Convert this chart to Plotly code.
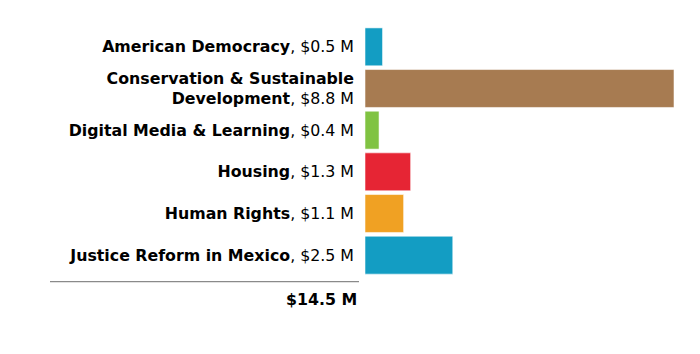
import plotly.graph_objects as go

categories = ["American Democracy", "Conservation & Sustainable<br>Development",
              "Digital Media & Learning", "Housing", "Human Rights",
              "Justice Reform in Mexico"]
values = [0.5, 8.8, 0.4, 1.3, 1.1, 2.5]
value_labels = ["$0.5 M", "$8.8 M", "$0.4 M", "$1.3 M", "$1.1 M", "$2.5 M"]
colors = ["#139DC3", "#A77B51", "#80C342", "#E62534", "#F0A123", "#139DC3"]
total_label = "$14.5 M"

FONT = "DejaVu Sans, Liberation Sans, Arial, sans-serif"
FS = 15.8

def tick_text(cat, val):
    parts = cat.split("<br>")
    return "<br>".join("<b>" + p + "</b>" for p in parts) + ", " + val

ticktext = [tick_text(c, v) for c, v in zip(categories, value_labels)]

L, R, T, B = 365, 26, 26, 78
W, H = 700, 354
pw = W - L - R
ph = H - T - B

fig = go.Figure(go.Bar(
    x=values, y=list(range(len(values))), orientation="h",
    marker=dict(color=colors, line=dict(color="rgba(255,255,255,0.55)", width=1)),
    width=0.91, hoverinfo="skip",
))

fig.update_layout(
    width=W, height=H,
    margin=dict(l=L, r=R, t=T, b=B),
    paper_bgcolor="white", plot_bgcolor="white",
    font=dict(family=FONT, size=FS, color="#000"),
    showlegend=False,
    xaxis=dict(range=[0, 8.8], visible=False),
    yaxis=dict(tickmode="array", tickvals=list(range(len(values))), ticktext=ticktext,
               range=[len(values) - 0.5, -0.5], showgrid=False, zeroline=False,
               showline=False, ticks="", ticklabelstandoff=10,
               tickfont=dict(size=FS, family=FONT, color="#000")),
)

fig.add_shape(type="line", xref="paper", yref="paper",
              x0=(50 - L) / pw, x1=(359 - L) / pw,
              y0=-5.7 / ph, y1=-5.7 / ph,
              line=dict(color="#8a8a8a", width=1.2))
fig.add_annotation(text="<b>" + total_label + "</b>", xref="paper", yref="paper",
                   x=(359 - L) / pw, y=-23 / ph, xanchor="right", yanchor="middle",
                   showarrow=False, font=dict(size=FS, family=FONT, color="#000"))

fig.write_html("out.html")
